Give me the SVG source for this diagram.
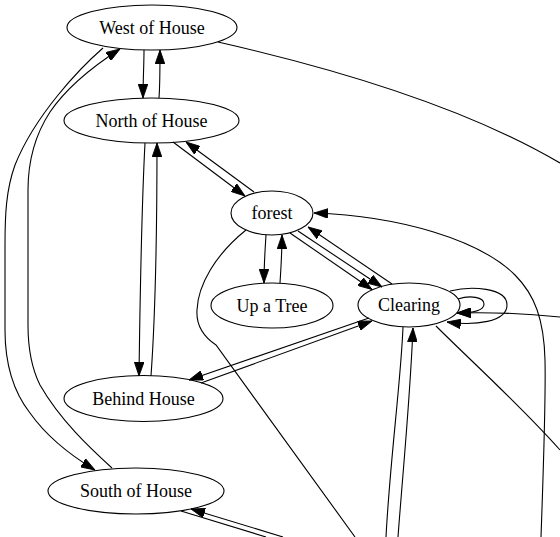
<svg xmlns="http://www.w3.org/2000/svg" width="560" height="537" viewBox="0 0 560 537">
<style>
.node ellipse{fill:none;stroke:#000;stroke-width:1.1}
.node text{font-family:'Liberation Serif','Times New Roman',Times,serif;font-size:18px;text-anchor:middle;fill:#000}
.edge{fill:none;stroke:#000;stroke-width:1.1}
.arr{marker-end:url(#ah)}
</style>
<defs>
<marker id="ah" markerUnits="userSpaceOnUse" markerWidth="14" markerHeight="10" viewBox="0 0 13 9" refX="13" refY="4.5" orient="auto">
<path d="M0,0 L13,4.5 L0,9 z" fill="#000" stroke="#000" stroke-width="0.8"/>
</marker>
</defs>
<rect width="560" height="537" fill="#fff"/>
<g id="edges">
<path class="edge arr" d="M144,50 C144,65 143,80 143,98"/>
<path class="edge arr" d="M159,98 C160,85 160,70 160,50"/>
<path class="edge" d="M218,42 C350,72 470,110 560,163"/>
<path class="edge arr" d="M103,48 C80,68 35,115 15,165 C6,190 5,215 5,245 L5,330 C5,360 12,390 30,413 C47,437 70,455 95,470"/>
<path class="edge arr" d="M112,468 C90,448 60,420 40,385 C30,365 28,345 28,325 L28,190 C28,160 35,135 50,112 C65,90 92,67 120,49"/>
<path class="edge arr" d="M145,143 C142,200 140,300 139,376"/>
<path class="edge arr" d="M151,376 C155,320 157,220 157,143"/>
<path class="edge arr" d="M173,142 L245,196"/>
<path class="edge arr" d="M254,192 L186,142"/>
<path class="edge arr" d="M266,235 C265,250 264,265 264,283"/>
<path class="edge arr" d="M280,283 C281,268 282,250 282,235"/>
<path class="edge arr" d="M290,233 L372,289.5"/>
<path class="edge arr" d="M298,231 L382,287"/>
<path class="edge arr" d="M392,284 L308,227"/>
<path class="edge arr" d="M458,299 C470,295 484,297 484,304 C484,311 472,313 457,313"/>
<path class="edge arr" d="M450,291 C470,286 507,287 507,305 C507,322 475,326 447,322"/>
<path class="edge arr" d="M560,317 C520,313 490,312 457,313"/>
<path class="edge arr" d="M369,318 L189,380"/>
<path class="edge arr" d="M201,383 L372,321"/>
<path class="edge" d="M403,327 C401,380 390,460 386,537"/>
<path class="edge arr" d="M398,537 C403,470 410,400 413,328"/>
<path class="edge" d="M436,326 C470,360 520,405 560,450"/>
<path class="edge arr" d="M541,537 C543,480 546,400 545,360 C544,320 535,295 515,275 C480,240 400,216 314,213"/>
<path class="edge" d="M246,230 C215,255 198,285 197,310 C196,325 204,337 216,345 L355,537"/>
<path class="edge" d="M181,511 L266,537"/>
<path class="edge arr" d="M283,537 L191,509"/>
</g>
<g id="west" class="node"><ellipse cx="152" cy="27.5" rx="85" ry="22.5"/><text x="152" y="33.5">West of House</text></g>
<g id="north" class="node"><ellipse cx="151.5" cy="120.5" rx="87.5" ry="22.5"/><text x="151.5" y="126.5">North of House</text></g>
<g id="forest" class="node"><ellipse cx="272" cy="213" rx="41" ry="22"/><text x="272" y="219">forest</text></g>
<g id="tree" class="node"><ellipse cx="272" cy="305.5" rx="61" ry="22.5"/><text x="272" y="311.5">Up a Tree</text></g>
<g id="clearing" class="node"><ellipse cx="409" cy="305" rx="51" ry="22"/><text x="409" y="311">Clearing</text></g>
<g id="behind" class="node"><ellipse cx="143.5" cy="398.5" rx="79.5" ry="23"/><text x="143.5" y="404.5">Behind House</text></g>
<g id="south" class="node"><ellipse cx="136" cy="491" rx="88" ry="23"/><text x="136" y="497">South of House</text></g>
</svg>
